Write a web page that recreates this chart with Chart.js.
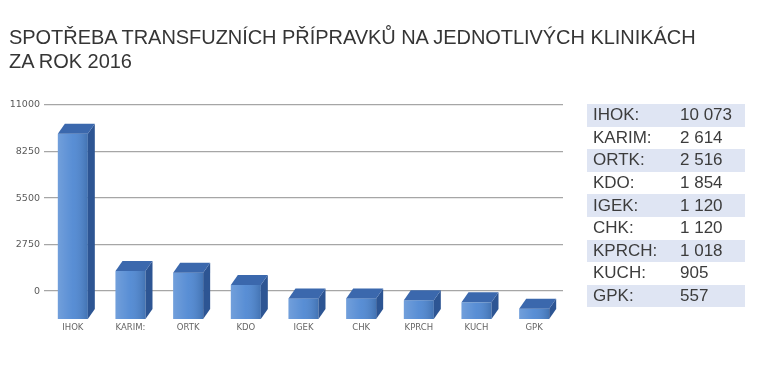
<!DOCTYPE html>
<html>
<head>
<meta charset="utf-8">
<script src="https://cdn.jsdelivr.net/npm/chart.js@4.4.1/dist/chart.umd.min.js"></script>
<style>
  html, body { margin: 0; padding: 0; background: #fff; }
  #wrap { position: relative; width: 757px; height: 382px; overflow: hidden; }
  #title {
    position: absolute; left: 9px; top: 25px;
    font-family: "Liberation Sans", Arial, sans-serif; font-size: 20px; line-height: 24px;
    color: #353535; white-space: nowrap; letter-spacing: -0.05px;
  }
  #tbl {
    position: absolute; left: 587px; top: 104px; width: 158px;
    border-collapse: collapse;
    font-family: "Liberation Sans", Arial, sans-serif; font-size: 17px; color: #3c3c3c;
  }
  #tbl td { height: 22.6px; padding: 0; line-height: 22px; }
  #tbl td.k { padding-left: 6px; width: 87px; }
  #tbl tr:nth-child(odd) { background: #dfe5f3; }
</style>
</head>
<body>
<div id="wrap">
  <canvas id="bloodChart" width="757" height="382"></canvas>
  <div id="title">SPOTŘEBA TRANSFUZNÍCH PŘÍPRAVKŮ NA JEDNOTLIVÝCH KLINIKÁCH<br>ZA ROK 2016</div>
  <table id="tbl"></table>
</div>
<script>
// clinics and yearly consumption (values from the side table)
const clinics = ["IHOK", "KARIM:", "ORTK", "KDO", "IGEK", "CHK", "KPRCH", "KUCH", "GPK"];
const consumption = [10073, 2614, 2516, 1854, 1120, 1120, 1018, 905, 557];
const yTicks = [0, 2750, 5500, 8250, 11000];

// number with space as thousands separator
const fmt = n => String(n).replace(/\B(?=(\d{3})+(?!\d))/g, " ");

// fill the table on the right
const tbl = document.getElementById("tbl");
clinics.forEach((c, i) => {
    const tr = document.createElement("tr");
    tr.innerHTML = `<td class="k">${c.replace(/:$/, "")}:</td><td>${fmt(consumption[i])}</td>`;
    tbl.appendChild(tr);
});

// fake 3D: side and top faces drawn on top of the flat bars
const DX = 7, DY = 10;
const bars3d = {
    id: "bars3d",
    afterDatasetsDraw(chart) {
        const c = chart.ctx;
        chart.getDatasetMeta(0).data.forEach(bar => {
            const l = bar.x - bar.width / 2, r = bar.x + bar.width / 2;
            const t = bar.y, b = bar.base;
            // shading across the front face
            const g = c.createLinearGradient(l, 0, r, 0);
            g.addColorStop(0, "rgba(255,255,255,0.2)");
            g.addColorStop(0.5, "rgba(255,255,255,0.06)");
            g.addColorStop(1, "rgba(0,0,0,0.15)");
            c.fillStyle = g;
            c.fillRect(l, t, r - l, b - t);
            // right side
            c.fillStyle = "#2d5593";
            c.beginPath();
            c.moveTo(r, t); c.lineTo(r + DX, t - DY); c.lineTo(r + DX, b - DY); c.lineTo(r, b);
            c.closePath(); c.fill();
            // top
            c.fillStyle = "#3b68ad";
            c.beginPath();
            c.moveTo(l, t); c.lineTo(l + DX, t - DY); c.lineTo(r + DX, t - DY); c.lineTo(r, t);
            c.closePath(); c.fill();
        });
    }
};

new Chart(document.getElementById("bloodChart").getContext("2d"), {
    type: "bar",
    data: {
        labels: clinics,
        datasets: [{
            data: consumption,
            yAxisID: "yBars",
            backgroundColor: "#4e87d2",
            borderWidth: 0,
            barPercentage: 0.52,
            categoryPercentage: 1
        }]
    },
    options: {
        responsive: false,
        animation: false,
        layout: { padding: { top: 105, right: 194, bottom: 43, left: 0 } },
        plugins: { legend: { display: false }, tooltip: { enabled: false } },
        scales: {
            x: {
                grid: { display: false, drawTicks: false },
                border: { display: false },
                ticks: { padding: 4, color: "#666", font: { family: "DejaVu Sans", size: 8.5 }, maxRotation: 0 },
                afterFit: s => { s.height = 20; }
            },
            y: {
                min: -1650, max: 11000,
                border: { display: false },
                grid: { color: "#a6a6a6", lineWidth: 1.3, drawTicks: false },
                afterBuildTicks: s => { s.ticks = yTicks.map(v => ({ value: v })); },
                ticks: {
                    padding: 4, color: "#5a5a5a", font: { family: "DejaVu Sans", size: 9.5 },
                    callback: v => String(v)
                },
                afterFit: s => { s.width = 44; }
            },
            yBars: { display: false, min: 0, max: 11630 }
        }
    },
    plugins: [bars3d]
});
</script>
</body>
</html>
